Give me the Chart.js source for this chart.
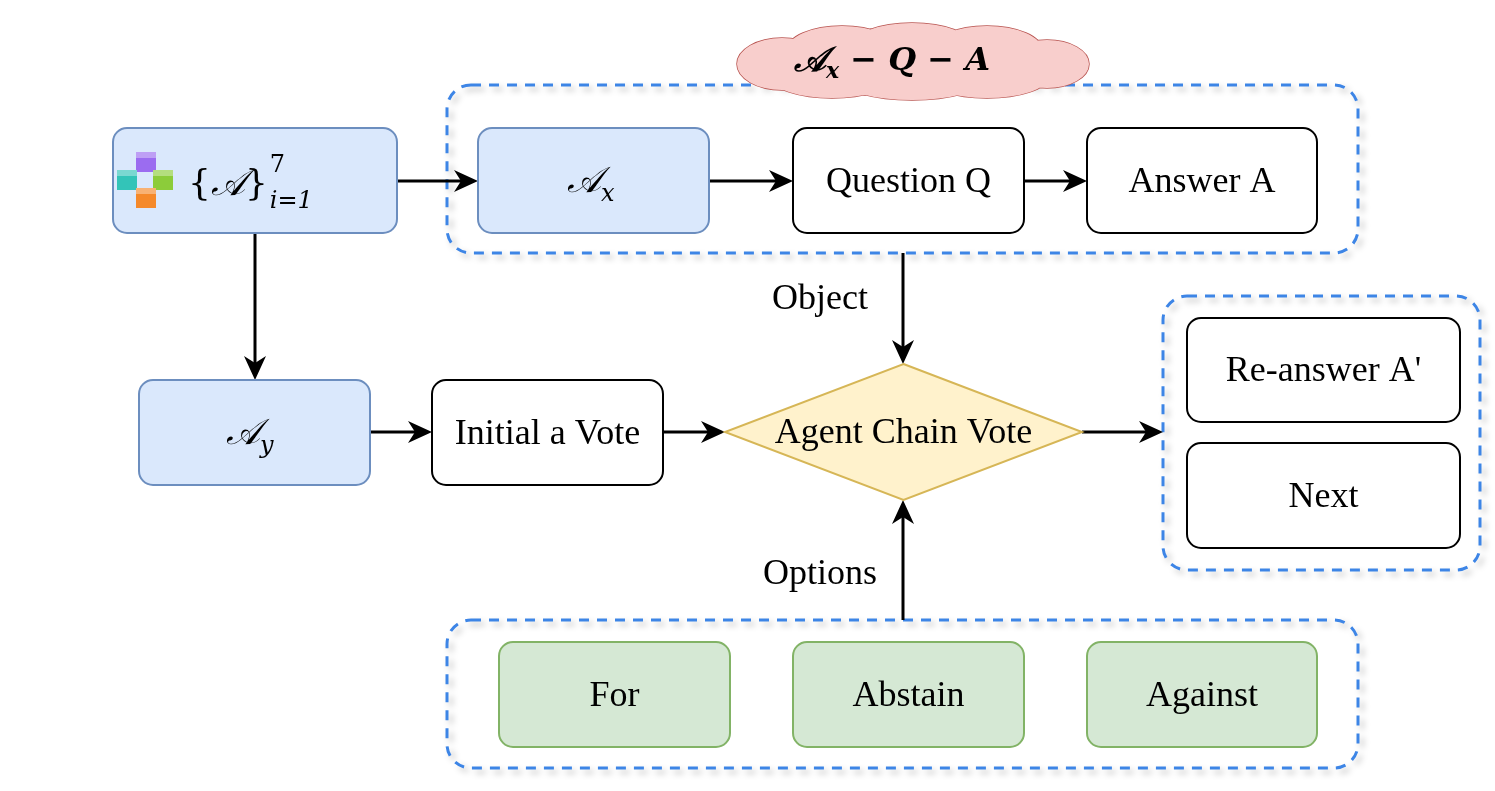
<!DOCTYPE html>
<html><head><meta charset="utf-8">
<script src="https://cdn.jsdelivr.net/npm/chart.js@4.4.1/dist/chart.umd.min.js"></script>
<style>html,body{margin:0;background:#fff;overflow:hidden}</style>
</head><body><canvas id="c" width="1495" height="791"></canvas>
<script>
// node texts
const nodeIds = ['set', 'ax', 'q', 'a', 'ay', 'init', 'vote', 're', 'next', 'for', 'abs', 'ag'];
const nodeTexts = ['', '', 'Question Q', 'Answer A', '', 'Initial a Vote', 'Agent Chain Vote', "Re-answer A'", 'Next', 'For', 'Abstain', 'Against'];
const edgeLabels = ['Object', 'Options'];
const cloudText = ['𝒜', 'x', ' − Q − A'];

// layout (in scale units = px)
const layout = {
  set: [113, 128, 397, 233, 'blue'], ax: [478, 128, 709, 233, 'blue'],
  q: [793, 128, 1024, 233, 'white'], a: [1087, 128, 1317, 233, 'white'],
  ay: [139, 380, 370, 485, 'blue'], init: [432, 380, 663, 485, 'white'],
  vote: [725, 364, 1082, 500, 'diamond'],
  re: [1187, 318, 1460, 422, 'white'], next: [1187, 443, 1460, 548, 'white'],
  for: [499, 642, 730, 747, 'green'], abs: [793, 642, 1024, 747, 'green'], ag: [1087, 642, 1317, 747, 'green']
};
const groups = [[447, 85, 1358, 253], [1163, 296, 1480, 570], [447, 620, 1358, 768]];
const arrows = [[397, 181, 478, 181], [709, 181, 793, 181], [1024, 181, 1087, 181], [255, 233, 255, 380],
  [370, 432, 432, 432], [663, 432, 725, 432], [903, 253, 903, 364], [903, 620, 903, 500], [1082, 432, 1163, 432]];
const styles = { blue: ['#dae8fc', '#6c8ebf'], white: ['#ffffff', '#000000'], green: ['#d5e8d4', '#82b366'], diamond: ['#fff2cc', '#d6b656'] };

const flow = {
  id: 'flow',
  afterDraw(chart) {
    const ctx = chart.ctx, X = v => chart.scales.x.getPixelForValue(v), Y = v => chart.scales.y.getPixelForValue(v);
    const rr = (x0, y0, x1, y1, r) => { ctx.beginPath(); ctx.roundRect(X(x0), Y(y0), X(x1) - X(x0), Y(y1) - Y(y0), r); };
    ctx.save();
    groups.forEach(g => {
      ctx.save(); ctx.shadowColor = 'rgba(0,0,0,0.25)'; ctx.shadowBlur = 6; ctx.shadowOffsetX = 4; ctx.shadowOffsetY = 4;
      rr(g[0], g[1], g[2], g[3], 24); ctx.setLineDash([10, 8]); ctx.lineWidth = 3; ctx.strokeStyle = '#3d85e6'; ctx.stroke(); ctx.restore();
    });
    // cloud
    ctx.save(); ctx.fillStyle = '#f8cecc'; ctx.strokeStyle = '#b85450'; ctx.lineWidth = 1.5;
    const cx = X(912), cy = Y(62);
    const lobes = [[-130, 2, 45, 26], [-70, -12, 55, 24], [0, -16, 60, 23], [75, -12, 55, 24], [135, 2, 42, 24], [75, 16, 60, 20], [0, 18, 70, 20], [-80, 16, 60, 20]];
    ctx.beginPath();
    lobes.forEach(e => { ctx.moveTo(cx + e[0] + e[2], cy + e[1]); ctx.ellipse(cx + e[0], cy + e[1], e[2], e[3], 0, 0, Math.PI * 2); });
    ctx.stroke();
    ctx.beginPath();
    lobes.forEach(e => { ctx.moveTo(cx + e[0] + e[2], cy + e[1]); ctx.ellipse(cx + e[0], cy + e[1], e[2], e[3], 0, 0, Math.PI * 2); });
    ctx.fill(); ctx.restore();
    ctx.fillStyle = '#000'; ctx.textBaseline = 'middle';
    ctx.font = 'italic bold 34px "DejaVu Serif"'; ctx.textAlign = 'left';
    let tx = cx - 118; ctx.fillText(cloudText[0], tx, cy); tx += ctx.measureText(cloudText[0]).width;
    ctx.font = 'italic bold 22px "DejaVu Serif"'; ctx.fillText(cloudText[1], tx, cy + 10); tx += ctx.measureText(cloudText[1]).width;
    ctx.font = 'italic bold 32px "DejaVu Serif"'; ctx.fillText(cloudText[2], tx, cy);
    // arrows
    ctx.strokeStyle = '#000'; ctx.fillStyle = '#000'; ctx.lineWidth = 3;
    arrows.forEach(a => {
      const x0 = X(a[0]), y0 = Y(a[1]), x1 = X(a[2]), y1 = Y(a[3]), ang = Math.atan2(y1 - y0, x1 - x0);
      const c = Math.cos(ang), s = Math.sin(ang);
      ctx.beginPath(); ctx.moveTo(x0, y0); ctx.lineTo(x1 - 14 * c, y1 - 14 * s); ctx.stroke();
      ctx.beginPath(); ctx.moveTo(x1, y1);
      ctx.lineTo(x1 - 24 * c + 11 * s, y1 - 24 * s - 11 * c);
      ctx.lineTo(x1 - 17 * c, y1 - 17 * s);
      ctx.lineTo(x1 - 24 * c - 11 * s, y1 - 24 * s + 11 * c);
      ctx.closePath(); ctx.fill();
    });
    // nodes
    nodeIds.forEach((id, i) => {
      const [x0, y0, x1, y1, s] = layout[id];
      ctx.fillStyle = styles[s][0]; ctx.strokeStyle = styles[s][1]; ctx.lineWidth = 2;
      if (s === 'diamond') {
        ctx.beginPath(); ctx.moveTo(X((x0 + x1) / 2), Y(y0)); ctx.lineTo(X(x1), Y((y0 + y1) / 2));
        ctx.lineTo(X((x0 + x1) / 2), Y(y1)); ctx.lineTo(X(x0), Y((y0 + y1) / 2)); ctx.closePath();
      } else rr(x0, y0, x1, y1, 14);
      ctx.fill(); ctx.stroke();
      ctx.fillStyle = '#000'; ctx.textAlign = 'center'; ctx.font = '36px "Liberation Serif"';
      ctx.fillText(nodeTexts[i], X((x0 + x1) / 2), Y((y0 + y1) / 2) + 2);
    });
    // math labels
    const script = (x, y, sub) => {
      ctx.textAlign = 'left'; ctx.font = 'italic 36px "DejaVu Serif"'; ctx.fillText('𝒜', x, y);
      const w = ctx.measureText('𝒜').width; ctx.font = 'italic 24px "DejaVu Serif"'; ctx.fillText(sub, x + w, y + 12);
    };
    script(X(567), Y(183), 'x'); script(X(226), Y(435), 'y');
    ctx.textAlign = 'left'; ctx.font = '36px "DejaVu Serif"';
    let sx = X(188), sy = Y(186); ctx.fillText('{', sx, sy); sx += ctx.measureText('{').width;
    ctx.font = 'italic 36px "DejaVu Serif"'; ctx.fillText('𝒜', sx, sy); sx += ctx.measureText('𝒜').width;
    ctx.font = '36px "DejaVu Serif"'; ctx.fillText('}', sx, sy); sx += ctx.measureText('}').width + 2;
    ctx.font = '24px "DejaVu Serif"'; ctx.fillText('7', sx, sy - 20); ctx.font = 'italic 24px "DejaVu Serif"'; ctx.fillText('i=1', sx, sy + 16);
    // cube icon
    [['#9b6cf0', 146, 162], ['#33c4b8', 127, 180], ['#8ccc3a', 163, 180], ['#f5892a', 146, 198]].forEach(c => {
      ctx.fillStyle = c[0]; ctx.fillRect(X(c[1] - 10), Y(c[2] - 10), 20, 20);
      ctx.fillStyle = 'rgba(255,255,255,0.35)'; ctx.fillRect(X(c[1] - 10), Y(c[2] - 10), 20, 6);
    });
    // edge labels
    ctx.fillStyle = '#000'; ctx.textAlign = 'center'; ctx.font = '36px "Liberation Serif"';
    ctx.fillText(edgeLabels[0], X(820), Y(300)); ctx.fillText(edgeLabels[1], X(820), Y(575));
    ctx.restore();
  }
};

new Chart(document.getElementById('c'), {
  type: 'scatter',
  data: { datasets: [{ data: [], pointRadius: 0 }] },
  options: {
    responsive: false, animation: false, events: [], devicePixelRatio: 1,
    layout: { padding: 0 },
    plugins: { legend: { display: false }, tooltip: { enabled: false } },
    scales: {
      x: { type: 'linear', min: 0, max: 1495, display: false },
      y: { type: 'linear', min: 0, max: 791, reverse: true, display: false }
    }
  },
  plugins: [flow]
});
</script>
</body></html>
